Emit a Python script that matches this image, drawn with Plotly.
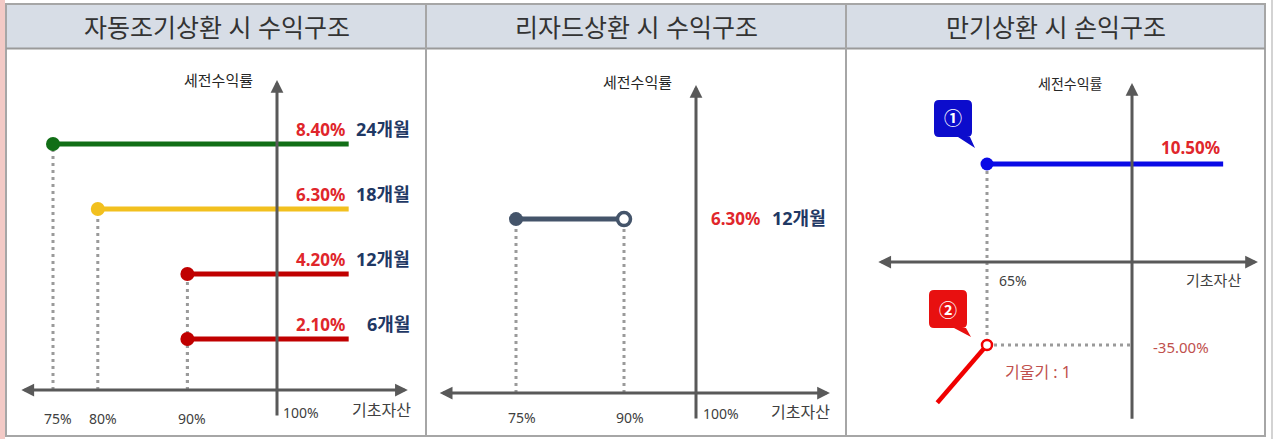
import plotly.graph_objects as go

W, H = 1275, 439

# ---------------- data ----------------
titles = ["자동조기상환 시 수익구조", "리자드상환 시 수익구조", "만기상환 시 손익구조"]
y_title = "세전수익률"
x_title = "기초자산"
ref_level = 100
ref_text = "100%"

# panel 1 - autocall
ac_level = [75, 80, 90, 90]
ac_return = [8.40, 6.30, 4.20, 2.10]
ac_return_text = ["8.40%", "6.30%", "4.20%", "2.10%"]
ac_period = ["24개월", "18개월", "12개월", "6개월"]
ac_line_end = [108, 108, 108, 108]
ac_ticks = [75, 80, 90]
ac_tick_text = ["75%", "80%", "90%"]

# panel 2 - lizard
lz_level = [75, 90]
lz_return = [6.30, 6.30]
lz_return_text = "6.30%"
lz_period = "12개월"
lz_ticks = [75, 90]
lz_tick_text = ["75%", "90%"]

# panel 3 - maturity
mt_gain_x = [65, 122]
mt_gain_y = [10.50, 10.50]
mt_loss_x = [65, 53]
mt_loss_y = [-35.00, -49.5]
mt_barrier_text = "65%"
mt_gain_text = "10.50%"
mt_loss_text = "-35.00%"
mt_slope_text = "기울기 : 1"
mt_badges = ["①", "②"]

# ---------------- style ----------------
FONT = "Noto Sans, Noto Sans CJK KR, sans-serif"
AXC = "#595959"
DOTC = "#9a9a9a"
RED_T = "#e0262b"
NAVY_T = "#1f3864"
SOFT_RED = "#c0504d"
TXT = "#404040"
ac_colors = ["#116e16", "#f2c01e", "#c00000", "#c00000"]
LZ_C = "#44546a"
BLUE = "#0a0ae6"
RED_L = "#f00000"
DOTDASH = "3px,4px"

# panel boxes in pixels (x0, y0, x1, y1) and scale anchors (value, pixel, px/unit)
panels = {
    1: dict(box=(7, 49, 426, 436), xa=(75, 53, 8.96), ya=(0, 404, 30.95)),
    2: dict(box=(426, 49, 846, 436), xa=(75, 516, 7.2), ya=(0, 393, 27.6)),
    3: dict(box=(846, 49, 1265, 436), xa=(65, 987, 4.143), ya=(10.5, 164, 3.978)),
}
# axis cross positions and extents (data units of each panel)
axes_geo = {
    1: dict(xc=100, yc=0.45, xmin=71.3, xmax=114.6, ymin=-0.42, ymax=10.47),
    2: dict(xc=100, yc=0.0, xmin=64.2, xmax=118.6, ymin=-0.98, ymax=11.16),
    3: dict(xc=100, yc=-14.14, xmin=38.4, xmax=130.4, ymin=-53.9, ymax=30.86),
}

fig = go.Figure()
layout = dict(width=W, height=H, margin=dict(l=0, r=0, t=0, b=0),
              paper_bgcolor="white", plot_bgcolor="rgba(0,0,0,0)",
              showlegend=False, font=dict(family=FONT))
for i, p in panels.items():
    x0, y0, x1, y1 = p["box"]
    av, apx, s = p["xa"]
    xr = [av + (x0 - apx) / s, av + (x1 - apx) / s]
    av, apy, s = p["ya"]
    yr = [av + (apy - y1) / s, av + (apy - y0) / s]
    sfx = "" if i == 1 else str(i)
    layout["xaxis" + sfx] = dict(domain=[x0 / W, x1 / W], range=xr, visible=False,
                                 fixedrange=True, anchor="y" + sfx)
    layout["yaxis" + sfx] = dict(domain=[1 - y1 / H, 1 - y0 / H], range=yr, visible=False,
                                 fixedrange=True, anchor="x" + sfx)
fig.update_layout(**layout)

ann = []
shapes = []


def refs(i):
    return ("x" if i == 1 else "x%d" % i), ("y" if i == 1 else "y%d" % i)


def line(i, x, y, color, width, dash=None):
    xr, yr = refs(i)
    fig.add_trace(go.Scatter(x=x, y=y, mode="lines", xaxis=xr, yaxis=yr,
                             line=dict(color=color, width=width, dash=dash),
                             hoverinfo="skip"))


def marker(i, x, y, color, size, open_=False, lw=3):
    xr, yr = refs(i)
    fig.add_trace(go.Scatter(x=x, y=y, mode="markers", xaxis=xr, yaxis=yr,
                             marker=dict(size=size, color="white" if open_ else color,
                                         line=dict(color=color, width=lw if open_ else 0)),
                             hoverinfo="skip"))


def text(i, x, y, t, size=14, color=TXT, xanchor="center", xshift=0, yshift=0, bold=False):
    xr, yr = refs(i)
    ann.append(dict(x=x, y=y, xref=xr, yref=yr, text=("<b>%s</b>" % t) if bold else t,
                    showarrow=False, xanchor=xanchor, yanchor="middle",
                    xshift=xshift, yshift=yshift,
                    font=dict(size=size, color=color, family=FONT)))


def draw_axes(i):
    g = axes_geo[i]
    xr, yr = refs(i)
    ann.append(dict(x=g["xmax"], y=g["yc"], ax=g["xmin"], ay=g["yc"], xref=xr, yref=yr,
                    axref=xr, ayref=yr, text="", showarrow=True, arrowhead=2,
                    startarrowhead=2, arrowside="end+start", arrowsize=0.85,
                    startarrowsize=0.85, arrowwidth=3, arrowcolor=AXC,
                    standoff=0, startstandoff=0))
    ann.append(dict(x=g["xc"], y=g["ymax"], ax=g["xc"], ay=g["ymin"], xref=xr, yref=yr,
                    axref=xr, ayref=yr, text="", showarrow=True, arrowhead=2,
                    arrowsize=0.85, arrowwidth=3, arrowcolor=AXC, standoff=0))


# ---------- panel 1 ----------
g = axes_geo[1]
for lv, rt in zip(ac_level, ac_return):
    line(1, [lv, lv], [g["yc"], rt], DOTC, 3, DOTDASH)
for lv, rt, end, c in zip(ac_level, ac_return, ac_line_end, ac_colors):
    line(1, [lv, end], [rt, rt], c, 5)
for lv, rt, c in zip(ac_level, ac_return, ac_colors):
    marker(1, [lv], [rt], c, 14)
draw_axes(1)
for rt, end, rtxt, per in zip(ac_return, ac_line_end, ac_return_text, ac_period):
    text(1, end, rt, rtxt, 17, RED_T, "right", xshift=-2, yshift=15, bold=True)
    text(1, end, rt, per, 18, NAVY_T, "right", xshift=63, yshift=15, bold=True)
for tk, tt in zip(ac_ticks, ac_tick_text):
    text(1, tk, g["yc"], tt, 14, TXT, "center", xshift=5, yshift=-28)
text(1, ref_level, g["yc"], ref_text, 14, TXT, "left", xshift=4, yshift=-22)
text(1, g["xmax"], g["yc"], x_title, 16, TXT, "right", xshift=5, yshift=-20)
text(1, ref_level, g["ymax"], y_title, 15, "#262626", "center", xshift=-59, yshift=0)

# ---------- panel 2 ----------
g = axes_geo[2]
for lv, rt in zip(lz_level, lz_return):
    line(2, [lv, lv], [g["yc"], rt], DOTC, 3, DOTDASH)
line(2, lz_level, lz_return, LZ_C, 5)
marker(2, lz_level[:1], lz_return[:1], LZ_C, 14)
marker(2, lz_level[1:], lz_return[1:], LZ_C, 13, open_=True, lw=3.5)
draw_axes(2)
text(2, ref_level, lz_return[0], lz_return_text, 17, RED_T, "right", xshift=66, yshift=1, bold=True)
text(2, ref_level, lz_return[0], lz_period, 18, NAVY_T, "right", xshift=132, yshift=1, bold=True)
for tk, tt in zip(lz_ticks, lz_tick_text):
    text(2, tk, g["yc"], tt, 14, TXT, "center", xshift=6, yshift=-24)
text(2, ref_level, g["yc"], ref_text, 14, TXT, "left", xshift=5, yshift=-20)
text(2, g["xmax"], g["yc"], x_title, 16, TXT, "right", xshift=2, yshift=-19)
text(2, ref_level, g["ymax"], y_title, 15, "#262626", "center", xshift=-59, yshift=3)

# ---------- panel 3 ----------
g = axes_geo[3]
line(3, [mt_gain_x[0], mt_loss_x[0]], [mt_gain_y[0], mt_loss_y[0]], DOTC, 3, DOTDASH)
line(3, [mt_loss_x[0], ref_level], [mt_loss_y[0], mt_loss_y[0]], DOTC, 3, DOTDASH)
line(3, mt_gain_x, mt_gain_y, BLUE, 5)
line(3, mt_loss_x, mt_loss_y, RED_L, 4.5)
marker(3, mt_gain_x[:1], mt_gain_y[:1], BLUE, 13)
marker(3, mt_loss_x[:1], mt_loss_y[:1], RED_L, 10, open_=True, lw=2.5)
draw_axes(3)
text(3, mt_gain_x[1], mt_gain_y[1], mt_gain_text, 17, RED_T, "right", xshift=-1, yshift=17, bold=True)
text(3, ref_level, mt_loss_y[0], mt_loss_text, 15, SOFT_RED, "left", xshift=19, yshift=-2)
text(3, mt_loss_x[0], mt_loss_y[0], mt_slope_text, 16, SOFT_RED, "left", xshift=16, yshift=-27)
text(3, mt_gain_x[0], g["yc"], mt_barrier_text, 14, TXT, "left", xshift=10, yshift=-18)
text(3, g["xmax"], g["yc"], x_title, 15, TXT, "right", xshift=-15, yshift=-18)
text(3, ref_level, g["ymax"], y_title, 14, "#262626", "center", xshift=-62, yshift=0)


def rrect(x0, y0, x1, y1, r):
    return ("M%g,%g L%g,%g Q%g,%g %g,%g L%g,%g Q%g,%g %g,%g L%g,%g Q%g,%g %g,%g "
            "L%g,%g Q%g,%g %g,%g Z" % (
                x0 + r, y0, x1 - r, y0, x1, y0, x1, y0 + r,
                x1, y1 - r, x1, y1, x1 - r, y1,
                x0 + r, y1, x0, y1, x0, y1 - r,
                x0, y0 + r, x0, y0, x0 + r, y0))


# callout bubbles anchored on the two key points (pixel offsets, y up)
badge_specs = [
    (mt_gain_x[0], mt_gain_y[0], "#0c0ccc", (-53, 27, -15, 64), (-29, 27, -17, 27, -12, 16), (-34, 46)),
    (mt_loss_x[0], mt_loss_y[0], "#e81010", (-58, 17, -20, 55), (-33, 17, -21, 17, -16, 8), (-39, 35)),
]
for (bx, by, col, box, tail, tpos), lab in zip(badge_specs, mt_badges):
    path = rrect(*box, 5) + " M%g,%g L%g,%g L%g,%g Z" % tail
    shapes.append(dict(type="path", xref="x3", yref="y3", xsizemode="pixel", ysizemode="pixel",
                       xanchor=bx, yanchor=by, path=path, fillcolor=col, line=dict(width=0)))
    text(3, bx, by, lab, 18, "white", "center", xshift=tpos[0], yshift=tpos[1], bold=True)

# ---------- frame / header ----------
def X(px):
    return px / W


def Y(py):
    return 1 - py / H


BORDER = "#a6a6a6"
shapes += [
    dict(type="rect", xref="paper", yref="paper", x0=0, x1=X(5), y0=0, y1=1,
         fillcolor="#f3cac6", line=dict(width=0), layer="below"),
    dict(type="rect", xref="paper", yref="paper", x0=X(7), x1=X(1265), y0=Y(48), y1=Y(4),
         fillcolor="#d7dde6", line=dict(width=0), layer="below"),
    dict(type="rect", xref="paper", yref="paper", x0=X(6), x1=X(1265), y0=Y(436), y1=Y(4),
         line=dict(color=BORDER, width=2)),
    dict(type="line", xref="paper", yref="paper", x0=X(6), x1=X(1265), y0=Y(48.5), y1=Y(48.5),
         line=dict(color="#9a9a9a", width=2)),
    dict(type="line", xref="paper", yref="paper", x0=X(426), x1=X(426), y0=Y(436), y1=Y(4),
         line=dict(color=BORDER, width=2)),
    dict(type="line", xref="paper", yref="paper", x0=X(846), x1=X(846), y0=Y(436), y1=Y(4),
         line=dict(color=BORDER, width=2)),
    dict(type="line", xref="paper", yref="paper", x0=X(1272), x1=X(1272), y0=0, y1=1,
         line=dict(color="#c4c4c4", width=1.5)),
]
for t, cx in zip(titles, [216.5, 636, 1055.5]):
    ann.append(dict(x=X(cx), y=Y(27), xref="paper", yref="paper", text=t, showarrow=False,
                    xanchor="center", yanchor="middle",
                    font=dict(size=25, color="#333333", family=FONT)))

fig.update_layout(annotations=ann, shapes=shapes)
fig.write_html("out.html", post_script="document.body.style.margin='0';",
               config={"displayModeBar": False})
